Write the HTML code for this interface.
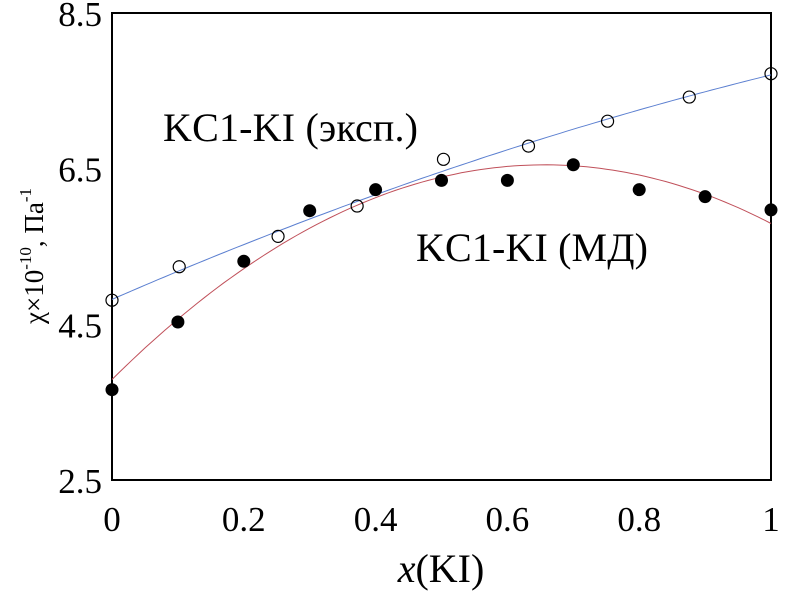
<!DOCTYPE html>
<html><head><meta charset="utf-8"><style>
body{margin:0;background:#fff;}
svg text{font-family:"Liberation Serif",serif;fill:#000;}
</style></head><body>
<svg id="c" width="787" height="593" xmlns="http://www.w3.org/2000/svg">
<rect x="112" y="13" width="659" height="467" fill="none" stroke="#000" stroke-width="2"/>
<g id="g"></g>
<text x="163" y="141" font-size="40" textLength="255">KC1-KI (эксп.)</text>
<text x="416" y="261" font-size="40" textLength="232">KC1-KI (МД)</text>
<text transform="translate(43,256) rotate(-90)" text-anchor="middle" font-size="27">χ×10<tspan dy="-12" font-size="17">-10</tspan><tspan dy="12">, Па</tspan><tspan dy="-12" font-size="17">-1</tspan></text>
<text x="441" y="582" text-anchor="middle" font-size="40"><tspan font-style="italic">x</tspan>(KI)</text>
</svg>
<script>
const xTicks=[0,0.2,0.4,0.6,0.8,1];
const xTickLabels=["0","0.2","0.4","0.6","0.8","1"];
const yTicks=[2.5,4.5,6.5,8.5];
const yTickLabels=["2.5","4.5","6.5","8.5"];
const expX=[0,0.102,0.252,0.372,0.503,0.632,0.752,0.876,1.0];
const expY=[4.81,5.24,5.63,6.02,6.62,6.79,7.11,7.42,7.72];
const mdX=[0,0.1,0.2,0.3,0.4,0.5,0.6,0.7,0.8,0.9,1.0];
const mdY=[3.66,4.53,5.31,5.96,6.23,6.35,6.35,6.55,6.23,6.14,5.97];
const X=v=>112+v*659, Y=v=>480-(v-2.5)*(467/6);
const g=document.getElementById('g'), NS='http://www.w3.org/2000/svg';
function mk(t,a){const e=document.createElementNS(NS,t);for(const k in a)e.setAttribute(k,a[k]);g.appendChild(e);return e;}
xTicks.forEach((v,i)=>{const t=mk('text',{x:X(v),y:531,'text-anchor':'middle','font-size':35});t.textContent=xTickLabels[i];

});
yTicks.forEach((v,i)=>{const t=mk('text',{x:102,y:Y(v)+13,'text-anchor':'end','font-size':35});t.textContent=yTickLabels[i];

});
function fit2(xs,ys){let S=[0,0,0,0,0],T=[0,0,0];xs.forEach((x,i)=>{for(let k=0;k<5;k++)S[k]+=x**k;for(let k=0;k<3;k++)T[k]+=ys[i]*x**k;});
const M=[[S[0],S[1],S[2],T[0]],[S[1],S[2],S[3],T[1]],[S[2],S[3],S[4],T[2]]];
for(let i=0;i<3;i++){for(let j=i+1;j<3;j++){const f=M[j][i]/M[i][i];for(let k=i;k<4;k++)M[j][k]-=f*M[i][k];}}
const c=[0,0,0];for(let i=2;i>=0;i--){let s=M[i][3];for(let k=i+1;k<3;k++)s-=M[i][k]*c[k];c[i]=s/M[i][i];}return c;}
function curve(xs,ys,col,name){const c=fit2(xs,ys);let d='';for(let i=0;i<=100;i++){const x=i/100;d+=(i?'L':'M')+X(x).toFixed(1)+','+Y(c[0]+c[1]*x+c[2]*x*x).toFixed(1);}
const p=mk('path',{d:d,fill:'none',stroke:col,'stroke-width':1});

}
curve(expX,expY,'#5b7fd0','fit-line-experiment');
curve(mdX,mdY,'#c0505a','fit-line-md');
expX.forEach((x,i)=>{const e=mk('circle',{cx:X(x),cy:Y(expY[i]),r:6,fill:'none',stroke:'#000','stroke-width':1.2});

});
mdX.forEach((x,i)=>{const e=mk('circle',{cx:X(x),cy:Y(mdY[i]),r:6.5,fill:'#000'});

});
</script>
</body></html>
